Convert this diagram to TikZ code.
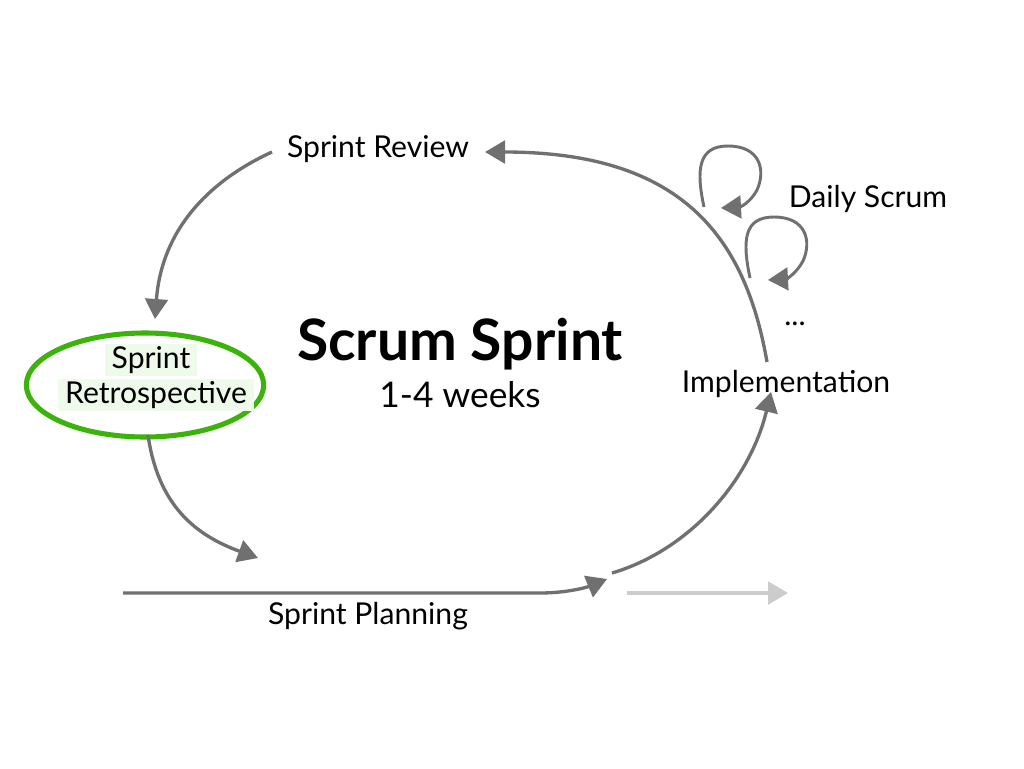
\documentclass[tikz,border=0pt]{standalone}
\usepackage{fontspec}
\setmainfont{Lato}
\usetikzlibrary{arrows.meta,shapes.geometric}
\definecolor{flowgray}{HTML}{707070}
\definecolor{lightflow}{HTML}{CCCCCC}
\definecolor{retrogreen}{HTML}{3CB30A}
\definecolor{hilite}{HTML}{EEFAEA}
\tikzset{
  tip/.style={-{Triangle[length=15pt,width=17pt]}},
  flow/.style={draw=flowgray, line width=2.5pt, tip},
  label/.style={font=\fontsize{22.6}{26}\selectfont, inner sep=1pt},
  hl/.style={label, fill=hilite, inner xsep=5pt, inner ysep=2pt},
}
\begin{document}
\begin{tikzpicture}[x=0.75pt,y=-0.75pt]
\useasboundingbox[fill=white] (0,0) rectangle (1024,768);

% text nodes
\node[label] (review) at (378,149) {Sprint Review};
\node[label] (impl) at (786,384) {Implementation};
\node[label] (daily) at (868,199) {Daily Scrum};
\node[label] (dots) at (795,324) {...};
\node[label] (planning) at (368,616) {Sprint Planning};
\node[inner sep=0pt, font=\bfseries\fontsize{42.8}{46}\selectfont] (title) at (460,344) {Scrum Sprint};
\node[label, font=\fontsize{26.5}{30}\selectfont] (weeks) at (460,395) {1-4 weeks};

% retrospective
\node[ellipse, draw=retrogreen, line width=3.8pt, minimum width=178pt, minimum height=78pt] (retro) at (145,385) {};
\node[hl] (retroA) at (151,360) {Sprint};
\node[hl] (retroB) at (156,395) {Retrospective};

% coordinates for connector ends
\coordinate (rvout) at (272,152);
\coordinate (rtin) at (155,319);
\coordinate (rtout) at (148,435);
\coordinate (plin) at (258,558);
\coordinate (plstart) at (123,593);
\coordinate (plend) at (607,579);
\coordinate (imstart) at (612,573);
\coordinate (imin) at (771,392);
\coordinate (imout) at (767,362);
\coordinate (rvin) at (485,152);
\coordinate (nextA) at (627,593);
\coordinate (nextB) at (788,593);
\coordinate (loopAs) at (704,207);
\coordinate (loopAe) at (721,208);
\coordinate (loopBs) at (750,278);
\coordinate (loopBe) at (768,280);

% connectors
\draw[flow] (rvout) .. controls (215,178) and (162,225) .. (rtin);
\draw[flow] (rtout) .. controls (158,505) and (195,535) .. (plin);
\draw[flow] (plstart) -- (540,593) .. controls (565,593) and (585,588) .. (plend);
\draw[flow] (imstart) .. controls (690,550) and (750,480) .. (imin);
\draw[flow] (imout) .. controls (745,235) and (680,152) .. (rvin);
\draw[draw=lightflow, line width=2.5pt, tip] (nextA) -- (nextB);

% daily loops
\draw[flow, line width=2.2pt] (loopAs) .. controls (696,170) and (698,146) .. (728,146) .. controls (760,146) and (766,170) .. (757,190) .. controls (750,203) and (740,207) .. (loopAe);
\draw[flow, line width=2.2pt] (loopBs) .. controls (742,240) and (744,217) .. (774,217) .. controls (806,217) and (812,241) .. (803,261) .. controls (796,274) and (786,279) .. (loopBe);
\end{tikzpicture}
\end{document}
